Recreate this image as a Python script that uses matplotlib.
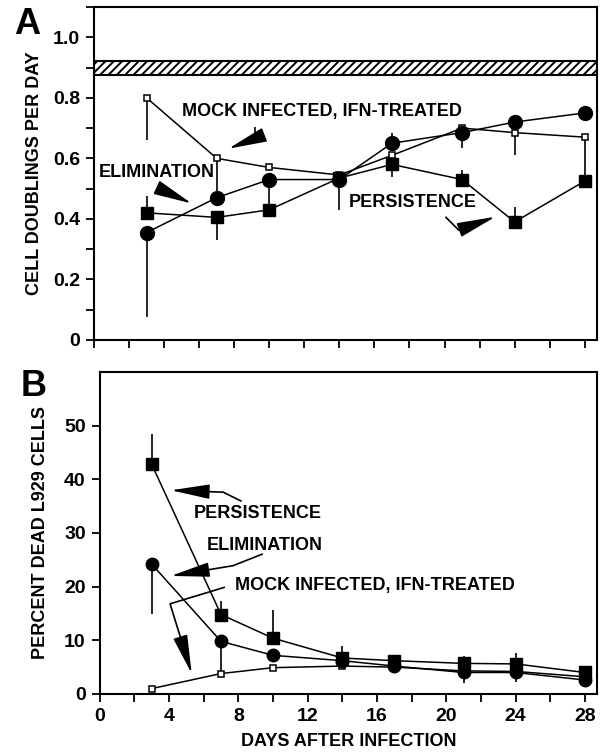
import matplotlib
matplotlib.use("Agg")
import matplotlib.pyplot as plt
from matplotlib.ticker import MultipleLocator, FuncFormatter

plt.rcParams['font.family'] = ['Liberation Sans', 'DejaVu Sans']
plt.rcParams['font.weight'] = 'bold'
plt.rcParams['hatch.linewidth'] = 1.4

# ---------------- data ----------------
days = [3, 7, 10, 14, 17, 21, 24, 28]

# Panel A: cell doublings per day
mock_A = [0.80, 0.60, 0.57, 0.545, 0.61, 0.70, 0.685, 0.67]
elim_A = [0.355, 0.47, 0.53, 0.53, 0.65, 0.685, 0.72, 0.75]
pers_A = [0.42, 0.405, 0.43, 0.535, 0.58, 0.53, 0.39, 0.525]
mock_A_lo = [0.14, 0.13, 0, 0, 0, 0, 0.075, 0.145]
mock_A_hi = [0, 0, 0, 0, 0, 0, 0, 0]
elim_A_lo = [0.28, 0, 0.10, 0.10, 0, 0.05, 0, 0]
elim_A_hi = [0, 0, 0, 0, 0.035, 0, 0, 0]
pers_A_lo = [0, 0.075, 0, 0, 0.04, 0, 0, 0]
pers_A_hi = [0.057, 0, 0, 0, 0, 0.03, 0.05, 0]
band_A = (0.875, 0.92)

# Panel B: percent dead L929 cells
mock_B = [1.0, 3.8, 4.9, 5.2, 5.0, 4.3, 4.2, 3.2]
elim_B = [24.2, 9.8, 7.2, 6.2, 5.2, 4.0, 4.0, 2.6]
pers_B = [42.8, 14.8, 10.4, 6.7, 6.2, 5.7, 5.6, 4.0]
elim_B_lo = [9.3, 6.1, 0, 0, 0, 2.0, 1.8, 0]
elim_B_hi = [0, 0, 0, 0, 0, 0, 0, 0]
pers_B_lo = [0, 0, 0, 0, 0, 0, 0, 0]
pers_B_hi = [5.6, 2.6, 5.3, 2.2, 0, 1.4, 2.0, 0]

lbl_mock = "MOCK INFECTED, IFN-TREATED"
lbl_elim = "ELIMINATION"
lbl_pers = "PERSISTENCE"

fig = plt.figure(figsize=(6.05, 7.53), dpi=100)
axA = fig.add_axes([0.1554, 0.5485, 0.8314, 0.4422])
axB = fig.add_axes([0.1648, 0.0784, 0.8220, 0.4276])

FS = 13


def style(ax):
    for s in ax.spines.values():
        s.set_linewidth(1.5)
    ax.tick_params(axis='both', which='both', direction='out', width=1.3,
                   labelsize=FS + 1, pad=4)
    ax.tick_params(which='major', length=6)
    ax.tick_params(which='minor', length=6)
    ax.set_xlim(0, 28.7)
    ax.xaxis.set_major_locator(MultipleLocator(4))
    ax.xaxis.set_minor_locator(MultipleLocator(2))


def arrow(ax, pts, ms=15, hl=1.6, hw=0.3):
    xs = [p[0] for p in pts[:-1]]
    ys = [p[1] for p in pts[:-1]]
    if len(xs) > 1:
        ax.plot(xs, ys, color='black', lw=1.2, solid_capstyle='butt')
    ax.annotate('', xy=pts[-1], xytext=pts[-2],
                arrowprops=dict(arrowstyle=f'-|>,head_length={hl},head_width={hw}',
                                mutation_scale=ms, color='black', lw=1.2,
                                shrinkA=0, shrinkB=0))


# ---------------- Panel A ----------------
style(axA)
axA.set_ylim(0, 1.1)
axA.yaxis.set_minor_locator(MultipleLocator(0.1))
axA.set_yticks([0, 0.2, 0.4, 0.6, 0.8, 1.0])
axA.yaxis.set_major_formatter(FuncFormatter(lambda v, p: '0' if abs(v) < 1e-9 else f'{v:.1f}'))
axA.tick_params(axis='x', which='both', labelbottom=False)
axA.axhspan(band_A[0], band_A[1], facecolor='white', edgecolor='black',
            hatch='////', linewidth=1.5, zorder=1)

for vals, lo, hi in [(mock_A, mock_A_lo, mock_A_hi), (elim_A, elim_A_lo, elim_A_hi),
                     (pers_A, pers_A_lo, pers_A_hi)]:
    axA.errorbar(days, vals, yerr=[lo, hi], fmt='none', ecolor='black',
                 elinewidth=1.2, capsize=0, zorder=2)
axA.plot(days, mock_A, color='black', lw=1.1, marker='s', ms=5,
         mfc='white', mec='black', mew=1.1, zorder=3)
axA.plot(days, pers_A, color='black', lw=1.1, marker='s', ms=8.5,
         mfc='black', mec='black', zorder=3)
axA.plot(days, elim_A, color='black', lw=1.1, marker='o', ms=10,
         mfc='black', mec='black', zorder=3)

axA.set_ylabel("CELL DOUBLINGS PER DAY", fontsize=FS, fontweight='bold', labelpad=7)

axA.text(13.03, 0.755, lbl_mock, fontsize=FS, ha='center', va='center')
arrow(axA, [(9.19, 0.702), (9.19, 0.666), (7.67, 0.632)])
axA.text(3.59, 0.554, lbl_elim, fontsize=FS, ha='center', va='center')
arrow(axA, [(3.95, 0.511), (4.14, 0.489), (5.57, 0.451)])
axA.text(18.19, 0.453, lbl_pers, fontsize=FS, ha='center', va='center')
arrow(axA, [(20.05, 0.407), (20.81, 0.363), (22.9, 0.407)])

fig.text(14 / 605, 1 - 24 / 753, "A", fontsize=26, fontweight='bold',
         ha='left', va='center')

# ---------------- Panel B ----------------
style(axB)
axB.set_ylim(0, 60)
axB.set_yticks([0, 10, 20, 30, 40, 50])
axB.set_xticks([0, 4, 8, 12, 16, 20, 24, 28])

for vals, lo, hi in [(elim_B, elim_B_lo, elim_B_hi), (pers_B, pers_B_lo, pers_B_hi)]:
    axB.errorbar(days, vals, yerr=[lo, hi], fmt='none', ecolor='black',
                 elinewidth=1.2, capsize=0, zorder=2)
axB.plot(days, mock_B, color='black', lw=1.1, marker='s', ms=5,
         mfc='white', mec='black', mew=1.1, zorder=3)
axB.plot(days, pers_B, color='black', lw=1.1, marker='s', ms=8,
         mfc='black', mec='black', zorder=3)
axB.plot(days, elim_B, color='black', lw=1.1, marker='o', ms=9,
         mfc='black', mec='black', zorder=3)

axB.set_ylabel("PERCENT DEAD L929 CELLS", fontsize=FS, fontweight='bold', labelpad=11)
axB.set_xlabel("DAYS AFTER INFECTION", fontsize=FS, fontweight='bold', labelpad=6)

axB.text(9.13, 33.7, lbl_pers, fontsize=FS, ha='center', va='center')
arrow(axB, [(8.19, 35.9), (7.13, 37.6), (4.11, 37.96)])
axB.text(9.54, 27.6, lbl_elim, fontsize=FS, ha='center', va='center')
arrow(axB, [(9.42, 26.1), (7.69, 23.9), (4.11, 22.0)])
axB.text(15.89, 20.2, lbl_mock, fontsize=FS, ha='center', va='center')
arrow(axB, [(7.23, 19.9), (4.06, 16.8), (5.31, 3.8)])

fig.text(21 / 605, 1 - 387 / 753, "B", fontsize=26, fontweight='bold',
         ha='left', va='center')

fig.savefig("out.png", dpi=100)
